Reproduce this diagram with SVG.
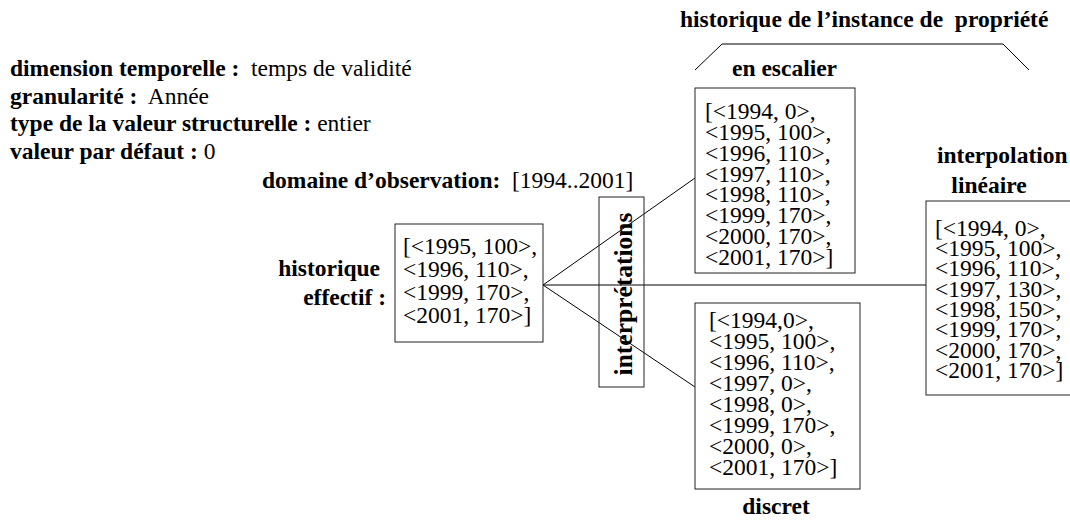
<svg xmlns="http://www.w3.org/2000/svg" width="1070" height="523" viewBox="0 0 1070 523">
  <style>
    text { font-family: "Liberation Serif", "Times New Roman", serif; font-size: 23.5px; fill: #000; white-space: pre; }
    .b { font-weight: bold; }
    .box { fill: #fff; stroke: #222; stroke-width: 1; }
    .frame { fill: none; stroke: #222; stroke-width: 1; }
    .ln { fill: none; stroke: #000; stroke-width: 1; }
  </style>
  <rect width="1070" height="523" fill="#fff"/>

  <!-- property description -->
  <g id="meta">
    <text x="10" y="76" xml:space="preserve"><tspan class="b">dimension temporelle :</tspan>  temps de validité</text>
    <text x="10" y="104" xml:space="preserve"><tspan class="b">granularité :</tspan>  Année</text>
    <text x="10" y="131" xml:space="preserve"><tspan class="b">type de la valeur structurelle :</tspan> entier</text>
    <text x="10" y="159" xml:space="preserve"><tspan class="b">valeur par défaut :</tspan> 0</text>
    <text x="262" y="188" xml:space="preserve"><tspan class="b">domaine d’observation:</tspan>  [1994..2001]</text>
  </g>

  <!-- title and bracket over the interpreted histories -->
  <g id="title">
    <text class="b" x="680" y="27" xml:space="preserve">historique de l’instance de  propriété</text>
    <polyline class="ln" points="695,70 722,44 1003,44 1029,70"/>
  </g>

  <!-- connectors -->
  <g id="connectors">
    <line class="ln" x1="543" y1="285" x2="695" y2="178"/>
    <line class="ln" x1="543" y1="285" x2="926" y2="285"/>
    <line class="ln" x1="543" y1="285" x2="695" y2="387"/>
  </g>

  <!-- effective history -->
  <g id="effectif">
    <text class="b" x="380" y="276" text-anchor="end">historique</text>
    <text class="b" x="386" y="305" text-anchor="end">effectif :</text>
    <rect class="box" x="395" y="224" width="148" height="118"/>
    <text x="403" y="254">[&lt;1995, 100&gt;,</text>
    <text x="403" y="277">&lt;1996, 110&gt;,</text>
    <text x="403" y="300">&lt;1999, 170&gt;,</text>
    <text x="403" y="323">&lt;2001, 170&gt;]</text>
  </g>

  <!-- interpretations -->
  <g id="interpretations">
    <rect class="frame" x="599" y="197" width="45" height="190"/>
    <text class="b" transform="translate(632,294) rotate(-90)" text-anchor="middle" style="font-size:25.5px">interprétations</text>
  </g>

  <!-- step interpretation -->
  <g id="escalier">
    <text class="b" x="732" y="76">en escalier</text>
    <rect class="box" x="695" y="88" width="160" height="185"/>
    <text x="705" y="119">[&lt;1994, 0&gt;,</text>
    <text x="705" y="140">&lt;1995, 100&gt;,</text>
    <text x="705" y="161">&lt;1996, 110&gt;,</text>
    <text x="705" y="182">&lt;1997, 110&gt;,</text>
    <text x="705" y="202">&lt;1998, 110&gt;,</text>
    <text x="705" y="223">&lt;1999, 170&gt;,</text>
    <text x="705" y="244">&lt;2000, 170&gt;,</text>
    <text x="705" y="265">&lt;2001, 170&gt;]</text>
  </g>

  <!-- discrete interpretation -->
  <g id="discret">
    <rect class="box" x="695" y="303" width="165" height="186"/>
    <text x="709" y="328">[&lt;1994,0&gt;,</text>
    <text x="709" y="349">&lt;1995, 100&gt;,</text>
    <text x="709" y="370">&lt;1996, 110&gt;,</text>
    <text x="709" y="391">&lt;1997, 0&gt;,</text>
    <text x="709" y="412">&lt;1998, 0&gt;,</text>
    <text x="709" y="433">&lt;1999, 170&gt;,</text>
    <text x="709" y="454">&lt;2000, 0&gt;,</text>
    <text x="709" y="475">&lt;2001, 170&gt;]</text>
    <text class="b" x="776" y="514" text-anchor="middle">discret</text>
  </g>

  <!-- linear interpolation -->
  <g id="lineaire">
    <text class="b" x="937" y="163">interpolation</text>
    <text class="b" x="989" y="193" text-anchor="middle">linéaire</text>
    <rect class="box" x="926" y="201" width="160" height="194"/>
    <text x="935" y="236">[&lt;1994, 0&gt;,</text>
    <text x="935" y="256">&lt;1995, 100&gt;,</text>
    <text x="935" y="276">&lt;1996, 110&gt;,</text>
    <text x="935" y="297">&lt;1997, 130&gt;,</text>
    <text x="935" y="317">&lt;1998, 150&gt;,</text>
    <text x="935" y="337">&lt;1999, 170&gt;,</text>
    <text x="935" y="358">&lt;2000, 170&gt;,</text>
    <text x="935" y="378">&lt;2001, 170&gt;]</text>
  </g>
</svg>
